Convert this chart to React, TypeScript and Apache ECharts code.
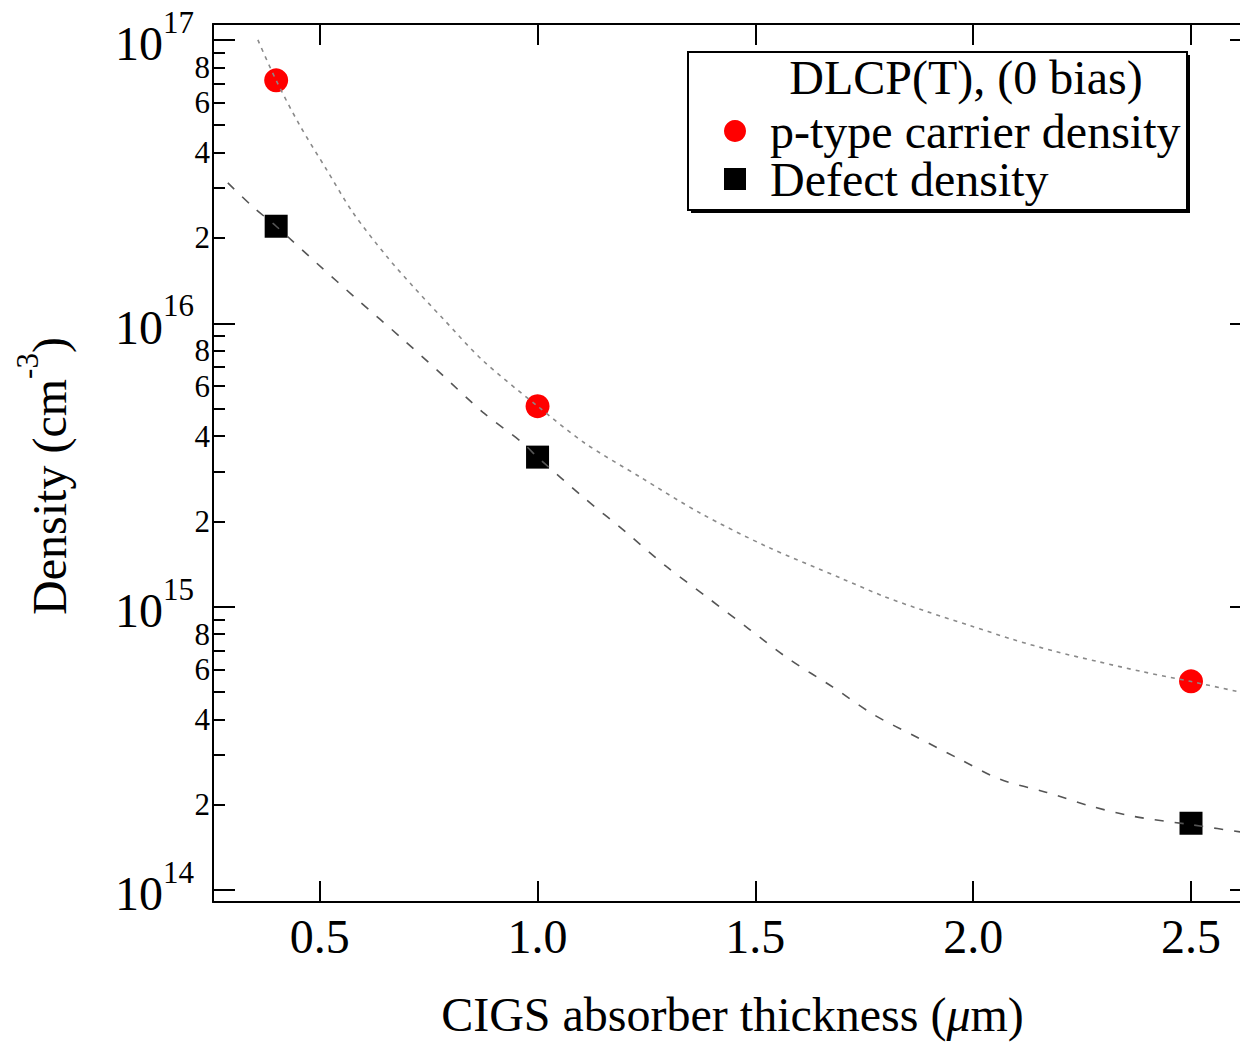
import React, { useEffect, useRef } from "react";
import * as echarts from "echarts";

// Measured points: absorber thickness (µm) and densities (cm^-3)
const thickness = [0.4, 1.0, 2.5];
const carrierDensity = [7.2e16, 5.1e15, 5.45e14];
const defectDensity = [2.2e16, 3.37e15, 1.72e14];

// Guide-to-the-eye curves through each data set
const carrierFitX = [0.358, 0.4, 0.454, 0.516, 0.576, 0.654, 0.714, 0.78, 0.874, 1.0, 1.108, 1.235, 1.373, 1.526, 1.699, 1.797, 1.894, 1.993, 2.091, 2.188, 2.286, 2.387, 2.498, 2.606, 2.64];
const carrierFitY = [1.0e17, 7.2e16, 5.0e16, 3.48e16, 2.46e16, 1.72e16, 1.35e16, 1.05e16, 7.4e15, 5.1e15, 3.78e15, 2.87e15, 2.14e15, 1.63e15, 1.255e15, 1.084e15, 9.6e14, 8.57e14, 7.66e14, 6.95e14, 6.4e14, 5.9e14, 5.45e14, 5.02e14, 4.9e14];
const defectFitX = [0.289, 0.346, 0.4, 0.493, 0.587, 0.688, 0.782, 0.874, 0.966, 1.0, 1.104, 1.205, 1.297, 1.389, 1.487, 1.579, 1.678, 1.77, 1.871, 1.97, 2.061, 2.169, 2.268, 2.367, 2.5, 2.64];
const defectFitY = [3.13e16, 2.58e16, 2.2e16, 1.63e16, 1.21e16, 8.86e15, 6.56e15, 4.86e15, 3.78e15, 3.37e15, 2.44e15, 1.82e15, 1.38e15, 1.08e15, 8.3e14, 6.5e14, 5.2e14, 4.17e14, 3.46e14, 2.89e14, 2.46e14, 2.21e14, 1.98e14, 1.82e14, 1.7e14, 1.58e14];

// Axis ticks
const xTicks = [0.5, 1.0, 1.5, 2.0, 2.5];
const xRange = [0.255, 2.64];
const decades = [14, 15, 16, 17];
const minorMultipliers = [2, 3, 4, 5, 6, 7, 8, 9];
const labelledMultipliers = [2, 4, 6, 8];
const densityRange = [9.07e13, 1.138e17];

const SERIES_CARRIER = "p-type carrier density";
const SERIES_DEFECT = "Defect density";
const LEGEND_TITLE = "DLCP(T), (0 bias)";

const FONT = '"Liberation Serif", "Times New Roman", serif';

const lg = (v: number) => Math.log10(v);

const yMin = lg(densityRange[0]);
const yMax = lg(densityRange[1]);

const minorTickValues: number[] = [];
const minorLabelValues: number[] = [];
for (let d = 13; d <= 17; d++) {
  for (const m of minorMultipliers) {
    const v = d + lg(m);
    if (v > yMin && v < yMax) {
      minorTickValues.push(v);
      if (labelledMultipliers.includes(m)) minorLabelValues.push(v);
    }
  }
}

const supRich = {
  b: { fontSize: 48, fontFamily: FONT, color: "#000", verticalAlign: "bottom", padding: [0, 0, 5, 0] },
  s: { fontSize: 31, fontFamily: FONT, color: "#000", verticalAlign: "top", lineHeight: 66 },
};

const black = { color: "#000", width: 2 };

function buildOption() {
  const baseY = {
    type: "value",
    min: yMin,
    max: yMax,
    splitLine: { show: false },
  };
  const baseX = {
    type: "value",
    min: xRange[0],
    max: xRange[1],
    splitLine: { show: false },
  };
  return {
    animation: false,
    backgroundColor: "#fff",
    grid: { left: 213, top: 24, width: 1039, height: 880 },
    xAxis: [
      {
        ...baseX,
        position: "bottom",
        axisLine: { show: true, lineStyle: black },
        axisTick: { show: true, inside: true, length: 21, customValues: xTicks, lineStyle: black },
        axisLabel: {
          customValues: xTicks,
          formatter: (v: number) => v.toFixed(1),
          fontFamily: FONT,
          fontSize: 48,
          color: "#000",
          margin: 10,
        },
        name: "{n|CIGS absorber thickness (}{i|\u03bc}{n|m)}",
        nameLocation: "middle",
        nameGap: 88,
        nameTextStyle: {
          rich: {
            n: { fontSize: 48, fontFamily: FONT, color: "#000" },
            i: { fontSize: 48, fontFamily: FONT, color: "#000", fontStyle: "italic" },
          },
        },
      },
      {
        ...baseX,
        position: "top",
        axisLine: { show: true, lineStyle: black },
        axisTick: { show: true, inside: true, length: 21, customValues: xTicks, lineStyle: black },
        axisLabel: { show: false },
      },
    ],
    yAxis: [
      {
        ...baseY,
        position: "left",
        axisLine: { show: true, lineStyle: black },
        axisTick: { show: true, inside: true, length: 22, customValues: decades, lineStyle: black },
        axisLabel: {
          customValues: decades,
          formatter: (v: number) => `{b|10}{s|${Math.round(v)}}`,
          margin: 19,
          rich: supRich,
        },
        name: "{b|Density (cm}{s|-3}{b|)}",
        nameLocation: "middle",
        nameRotate: 90,
        nameGap: 135,
        nameTextStyle: { rich: supRich, padding: [0, 26, 0, 0] },
      },
      {
        ...baseY,
        position: "left",
        axisLine: { show: false },
        axisTick: { show: true, inside: true, length: 12, customValues: minorTickValues, lineStyle: black },
        axisLabel: {
          customValues: minorLabelValues,
          formatter: (v: number) => String(Math.round(Math.pow(10, v - Math.floor(v + 1e-9)))),
          fontFamily: FONT,
          fontSize: 31,
          color: "#000",
          margin: 3,
        },
      },
      {
        ...baseY,
        position: "right",
        axisLine: { show: true, lineStyle: black },
        axisTick: { show: true, inside: true, length: 22, customValues: decades, lineStyle: black },
        axisLabel: { show: false },
      },
      {
        ...baseY,
        position: "right",
        axisLine: { show: false },
        axisTick: { show: true, inside: true, length: 12, customValues: minorTickValues, lineStyle: black },
        axisLabel: { show: false },
      },
    ],
    legend: {
      data: [
        { name: SERIES_CARRIER, icon: "circle" },
        { name: SERIES_DEFECT, icon: "rect" },
      ],
      orient: "vertical",
      left: 688,
      top: 52,
      padding: [55, 5, 9, 36],
      itemWidth: 22,
      itemHeight: 22,
      itemGap: 0,
      selectedMode: false,
      z: 6,
      textStyle: {
        fontFamily: FONT,
        fontSize: 48,
        color: "#000",
        lineHeight: 27,
        padding: [0, 0, 20, 19],
      },
    },
    graphic: [
      { type: "rect", z: 1, shape: { x: 691, y: 55, width: 499, height: 158 }, style: { fill: "#000" } },
      {
        type: "rect",
        z: 2,
        shape: { x: 688, y: 52, width: 499, height: 158 },
        style: { fill: "#fff", stroke: "#000", lineWidth: 2 },
      },
      {
        type: "text",
        z: 7,
        x: 966,
        y: 77,
        style: {
          text: LEGEND_TITLE,
          fontFamily: FONT,
          fontSize: 48,
          fill: "#000",
          align: "center",
          verticalAlign: "middle",
        },
      },
    ],
    series: [
      {
        name: SERIES_CARRIER,
        type: "scatter",
        symbol: "circle",
        symbolSize: 24,
        itemStyle: { color: "#ff0000", opacity: 1 },
        data: thickness.map((x, i) => [x, lg(carrierDensity[i])]),
      },
      {
        name: SERIES_DEFECT,
        type: "scatter",
        symbol: "rect",
        symbolSize: 23,
        itemStyle: { color: "#000", opacity: 1 },
        data: thickness.map((x, i) => [x, lg(defectDensity[i])]),
      },
      {
        name: "carrier fit",
        type: "line",
        smooth: 0.3,
        showSymbol: false,
        symbol: "none",
        lineStyle: { color: "#8a8a8a", width: 1.6, type: [4, 5] },
        data: carrierFitX.map((x, i) => [x, lg(carrierFitY[i])]),
      },
      {
        name: "defect fit",
        type: "line",
        smooth: 0.3,
        showSymbol: false,
        symbol: "none",
        lineStyle: { color: "#555", width: 1.6, type: [9, 11] },
        data: defectFitX.map((x, i) => [x, lg(defectFitY[i])]),
      },
    ],
  };
}

export default function App() {
  const ref = useRef<HTMLDivElement>(null);
  useEffect(() => {
    document.body.style.margin = "0";
    document.body.style.overflow = "hidden";
    if (!ref.current) return;
    const chart = echarts.init(ref.current, undefined, { renderer: "svg" });
    chart.setOption(buildOption() as any);
    return () => chart.dispose();
  }, []);
  // The plot frame runs a little past the right edge of the visible area.
  return (
    <div style={{ width: 1240, height: 1043, overflow: "hidden", position: "relative" }}>
      <div ref={ref} style={{ width: 1270, height: 1043 }} />
    </div>
  );
}
